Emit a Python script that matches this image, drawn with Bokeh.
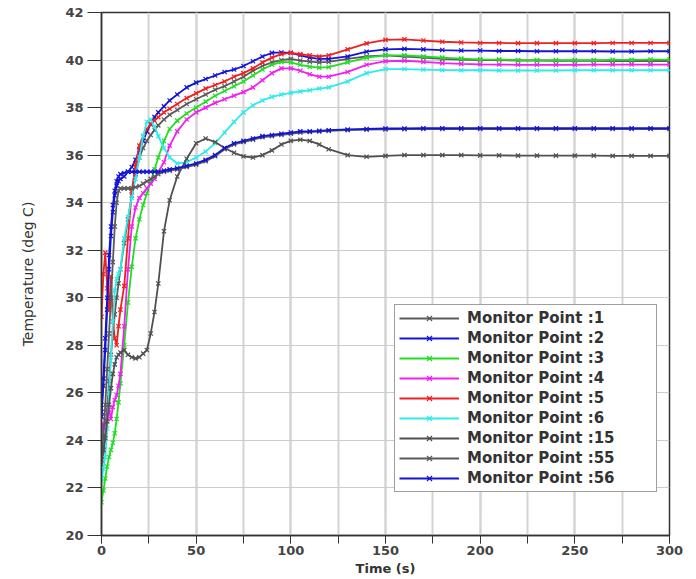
from bokeh.plotting import figure
from bokeh.models import Range1d, SingleIntervalTicker
from bokeh.embed import file_html
from bokeh.resources import INLINE

time_s = [0, 1, 2, 3, 4, 5, 6, 7, 8, 9, 10,
          12, 14, 16, 18, 20, 22, 24, 26, 28, 30,
          33, 36, 40,
          45, 50, 55, 60, 65, 70, 75, 80, 85, 90, 95, 100, 105, 110, 115, 120,
          130, 140, 150, 160, 170, 180, 190, 200, 210, 220, 230, 240, 250, 260, 270, 280, 290, 300]

mp1 = [23.0, 23.5, 24.2, 25.3, 26.5, 27.6, 28.5, 29.3, 30.0, 30.6, 31.2,
       32.3, 33.3, 34.3, 35.2, 35.9, 36.3, 36.6, 36.85, 37.05, 37.25,
       37.5, 37.7, 37.9,
       38.15, 38.35, 38.55, 38.75, 38.9, 39.1, 39.3, 39.55, 39.75, 39.9, 40.0, 40.05, 39.98, 39.93, 39.9, 39.92,
       40.05, 40.15, 40.2, 40.15, 40.1, 40.05, 40.02, 40.0, 40.0, 39.98, 39.98, 39.97, 39.97, 39.97, 39.96, 39.96, 39.96, 39.96]

mp2 = [25.2, 26.3, 27.8, 29.5, 31.2, 32.6, 33.6, 34.3, 34.7, 34.9, 35.0,
       35.1, 35.3, 35.5, 35.8, 36.2, 36.6, 37.0, 37.3, 37.6, 37.8,
       38.05, 38.3, 38.55,
       38.85, 39.05, 39.2, 39.35, 39.5, 39.6, 39.75, 39.95, 40.15, 40.3, 40.32, 40.3, 40.2, 40.1, 40.05, 40.05,
       40.15, 40.35, 40.45, 40.47, 40.45, 40.42, 40.4, 40.4, 40.38, 40.38, 40.37, 40.37, 40.37, 40.37, 40.36, 40.36, 40.37, 40.37]

mp3 = [21.4, 21.9, 22.4, 22.9, 23.3, 23.6, 23.9, 24.3, 24.9, 25.6, 26.4,
       28.0, 29.8, 31.3, 32.5, 33.3, 33.9, 34.4, 34.9, 35.4, 35.9,
       36.6, 37.1, 37.45,
       37.75, 38.0, 38.25, 38.5, 38.7, 38.9, 39.1, 39.35, 39.6, 39.8, 39.92, 39.9, 39.8, 39.72, 39.68, 39.7,
       39.9, 40.1, 40.2, 40.2, 40.15, 40.1, 40.06, 40.03, 40.02, 40.0, 40.0, 40.0, 40.0, 40.0, 40.01, 40.01, 40.02, 40.02]

mp4 = [24.4, 24.7, 24.5, 25.0, 25.3, 24.9, 25.4, 25.7, 25.9, 26.3, 26.8,
       28.8, 31.2, 33.0, 33.8, 34.2, 34.4, 34.6, 34.8, 35.0, 35.3,
       35.7, 36.4, 37.0,
       37.5, 37.8, 38.0, 38.2, 38.35, 38.5, 38.65, 38.85, 39.15, 39.45, 39.65, 39.65, 39.55, 39.4, 39.3, 39.3,
       39.5, 39.8, 39.95, 39.97, 39.92, 39.87, 39.84, 39.82, 39.81, 39.8, 39.8, 39.8, 39.8, 39.81, 39.81, 39.81, 39.81, 39.81]

mp5 = [29.2, 31.0, 31.9, 30.4, 29.5, 30.9, 29.0, 28.3, 28.0, 28.8, 29.5,
       30.5, 32.5, 34.5, 35.6, 36.4, 36.8, 37.1, 37.3, 37.45, 37.6,
       37.8, 37.95, 38.15,
       38.4, 38.6, 38.8, 38.95, 39.1, 39.3, 39.45, 39.65, 39.9, 40.1, 40.25, 40.3, 40.25, 40.2, 40.15, 40.2,
       40.45, 40.7, 40.85, 40.87, 40.82, 40.77, 40.74, 40.72, 40.72, 40.71, 40.71, 40.71, 40.71, 40.71, 40.72, 40.72, 40.72, 40.72]

mp6 = [22.3, 22.8, 23.3, 24.5, 26.0, 27.5, 29.0, 30.3, 30.8, 31.0, 31.2,
       32.5, 33.4, 34.2, 35.0, 35.9, 36.8, 37.4, 37.5, 37.2, 36.8,
       36.3, 35.9, 35.65,
       35.7, 35.9, 36.15, 36.5, 36.95, 37.4, 37.8, 38.1, 38.3, 38.45, 38.55, 38.62, 38.68, 38.73, 38.8, 38.85,
       39.1, 39.45, 39.62, 39.62, 39.6, 39.58, 39.57, 39.57, 39.56, 39.56, 39.56, 39.56, 39.57, 39.57, 39.57, 39.57, 39.57, 39.57]

mp15 = [23.2, 23.6, 24.1, 24.8, 25.5, 26.2, 26.8, 27.2, 27.5, 27.6, 27.7,
        27.8, 27.6, 27.5, 27.45, 27.5, 27.65, 27.8, 28.5, 29.4, 30.6,
        32.8, 34.1, 35.1,
        35.85, 36.5, 36.7, 36.55, 36.3, 36.1, 35.95, 35.9, 36.0, 36.2, 36.45, 36.6, 36.65, 36.6, 36.45, 36.25,
        36.0, 35.93, 35.97, 36.0, 36.0, 36.0, 36.0, 35.99, 35.99, 35.98, 35.98, 35.98, 35.98, 35.98, 35.97, 35.97, 35.97, 35.97]

mp55 = [23.3, 24.2, 25.5, 27.0, 28.5, 30.0, 31.5, 33.0, 34.0, 34.5, 34.6,
        34.6, 34.6, 34.6, 34.65, 34.7, 34.8, 34.9, 35.0, 35.1, 35.2,
        35.3, 35.35, 35.4,
        35.5, 35.6, 35.75, 35.95, 36.25, 36.45, 36.55, 36.65, 36.75, 36.8, 36.85, 36.9, 36.95, 36.97, 37.0, 37.02,
        37.05, 37.07, 37.08, 37.09, 37.1, 37.1, 37.1, 37.1, 37.1, 37.1, 37.1, 37.1, 37.1, 37.1, 37.1, 37.1, 37.1, 37.1]

mp56 = [25.0, 26.6, 28.3, 30.0, 31.8, 33.0, 33.9, 34.5, 34.9, 35.1, 35.2,
        35.25, 35.3, 35.3, 35.3, 35.3, 35.3, 35.3, 35.3, 35.3, 35.3,
        35.35, 35.4, 35.45,
        35.55, 35.65, 35.8, 36.0, 36.3, 36.5, 36.6, 36.7, 36.8, 36.85, 36.9, 36.95, 37.0, 37.0, 37.02, 37.05,
        37.08, 37.1, 37.12, 37.12, 37.13, 37.13, 37.13, 37.13, 37.13, 37.13, 37.13, 37.13, 37.13, 37.13, 37.13, 37.13, 37.13, 37.13]

labels = ["Monitor Point :1", "Monitor Point :2", "Monitor Point :3", "Monitor Point :4",
          "Monitor Point :5", "Monitor Point :6", "Monitor Point :15", "Monitor Point :55",
          "Monitor Point :56"]
series = [mp1, mp2, mp3, mp4, mp5, mp6, mp15, mp55, mp56]
colors = ["#5a5a5a", "#1414d8", "#22dd22", "#f020f0", "#f02020", "#30eaea",
          "#505050", "#5a5a5a", "#1414d8"]

p = figure(width=689, height=578, x_range=Range1d(0, 300), y_range=Range1d(20, 42),
           output_backend="svg", toolbar_location=None,
           min_border_left=101, min_border_right=20, min_border_top=12, min_border_bottom=43)

for lab, ys, c in zip(labels, series, colors):
    p.line(time_s, ys, line_color=c, line_width=1.8, legend_label=lab)
    p.scatter(time_s, ys, marker="x", size=6, line_color=c, line_width=1.2, legend_label=lab)

p.background_fill_color = "white"
p.outline_line_color = "#333333"
p.outline_line_width = 1.5

p.xaxis.ticker = SingleIntervalTicker(interval=50, num_minor_ticks=2)
p.yaxis.ticker = SingleIntervalTicker(interval=2, num_minor_ticks=0)

for ax in (p.xaxis, p.yaxis):
    ax.axis_line_color = "#333333"
    ax.axis_line_width = 1.5
    ax.major_tick_line_color = "#333333"
    ax.minor_tick_line_color = "#333333"
    ax.major_tick_in = 0
    ax.minor_tick_in = 0
    ax.major_label_text_font = "DejaVu Sans"
    ax.major_label_text_font_style = "bold"
    ax.major_label_text_font_size = "13px"
    ax.major_label_text_color = "#444444"
    ax.axis_label_text_font = "DejaVu Sans"
    ax.axis_label_text_color = "#333333"

p.xaxis.major_tick_out = 8
p.xaxis.minor_tick_out = 8
p.xaxis.major_label_standoff = 2
p.xaxis.axis_label = "Time (s)"
p.xaxis.axis_label_text_font_size = "13px"
p.xaxis.axis_label_text_font_style = "bold"
p.xaxis.axis_label_standoff = 3

p.yaxis.major_tick_out = 14
p.yaxis.minor_tick_out = 0
p.yaxis.major_label_standoff = 4
p.yaxis.axis_label = "Temperature (deg C)"
p.yaxis.axis_label_text_font_size = "14px"
p.yaxis.axis_label_text_font_style = "normal"
p.yaxis.axis_label_standoff = 26

p.xgrid.grid_line_color = "#d4d4d4"
p.xgrid.grid_line_width = 2
p.xgrid.minor_grid_line_color = "#d4d4d4"
p.xgrid.minor_grid_line_width = 2
p.ygrid.grid_line_color = "#cccccc"
p.ygrid.grid_line_width = 1

lg = p.legend[0]
lg.location = (293, 43)
lg.border_line_color = "#404040"
lg.border_line_width = 1.5
lg.background_fill_color = "white"
lg.background_fill_alpha = 1.0
lg.label_text_font = "DejaVu Sans"
lg.label_text_font_style = "bold"
lg.label_text_font_size = "15px"
lg.label_text_color = "#333333"
lg.glyph_width = 60
lg.glyph_height = 18
lg.label_height = 18
lg.label_width = 185
lg.label_standoff = 8
lg.spacing = 2
lg.padding = 4
lg.margin = 0

open("out.html", "w").write(file_html(p, INLINE))
